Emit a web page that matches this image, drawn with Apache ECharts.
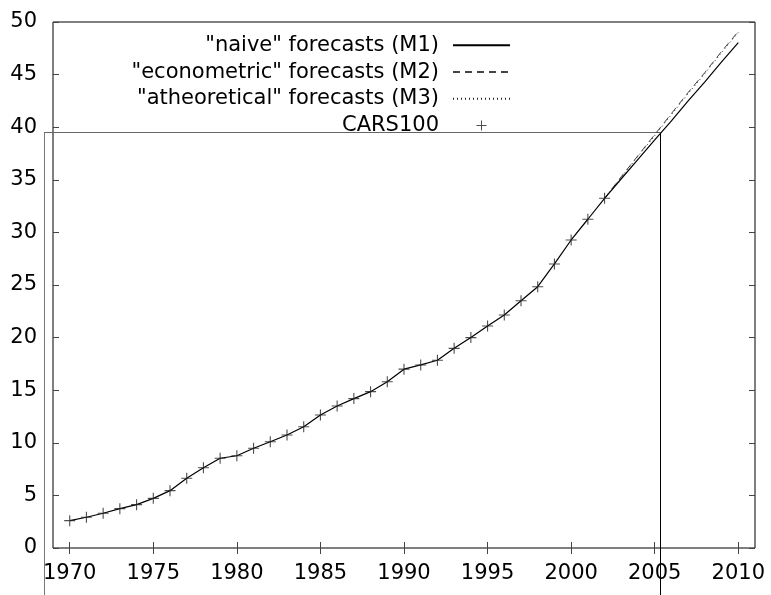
<!DOCTYPE html>
<html>
<head>
<meta charset="utf-8">
<script src="https://cdn.jsdelivr.net/npm/echarts@6/dist/echarts.min.js"></script>
<style>
html,body{margin:0;padding:0;background:#fff;}
#chart{width:771px;height:595px;}
</style>
</head>
<body>
<div id="chart"></div>
<script>
// Observed data (CARS100)
var years = [1970,1971,1972,1973,1974,1975,1976,1977,1978,1979,1980,1981,1982,1983,1984,1985,1986,1987,1988,1989,1990,1991,1992,1993,1994,1995,1996,1997,1998,1999,2000,2001,2002];
var cars100 = [2.6,2.92,3.3,3.74,4.12,4.72,5.45,6.63,7.63,8.53,8.77,9.48,10.1,10.74,11.53,12.64,13.5,14.2,14.86,15.8,17.0,17.4,17.85,18.98,20.0,21.1,22.15,23.5,24.84,27.0,29.28,31.25,33.24];
// Forecasts (start at last observation 2002)
var forecastYears = [2002,2003,2004,2005,2006,2007,2008,2009,2010];
var naiveForecast = [33.24,35.1,36.95,38.8,40.6,42.5,44.3,46.2,48.03];
var econForecast = [33.24,35.3,37.3,39.3,41.3,43.3,45.2,47.2,49.1];
var atheorForecast = [33.24,35.25,37.25,39.2,41.2,43.2,45.1,47.1,49.0];
var xTicks = [1970,1975,1980,1985,1990,1995,2000,2005,2010];
var yTicks = [0,5,10,15,20,25,30,35,40,45,50];

function pairs(xs, ys){ return xs.map(function(x,i){ return [x, ys[i]]; }); }

var m1Years = years.concat(forecastYears.slice(1));
var m1Vals = cars100.concat(naiveForecast.slice(1));

var FONT = 'DejaVu Sans';
var crossPath = 'path://M4.5,0h1v10h-1z M0,4.5h4.5v1h-4.5z M5.5,4.5h4.5v1h-4.5z';
var hiddenSym = {opacity: 0};

var chart = echarts.init(document.getElementById('chart'), null, {renderer:'canvas'});
var option = {
  animation: false,
  backgroundColor: '#fff',
  grid: {left: 53, right: 16, top: 22, bottom: 47, show: true, borderColor: '#000', borderWidth: 1, backgroundColor: 'transparent'},
  legend: {
    orient: 'vertical',
    align: 'right',
    right: 255,
    top: 27,
    itemWidth: 57,
    itemHeight: 10,
    itemGap: 0,
    selectedMode: false,
    textStyle: {fontFamily: FONT, fontSize: 21, color: '#000', lineHeight: 26.7, padding: [0, 9, 0, 0]},
    data: [
      {name: '"naive" forecasts (M1)', itemStyle: hiddenSym},
      {name: '"econometric" forecasts (M2)', itemStyle: hiddenSym},
      {name: '"atheoretical" forecasts (M3)', itemStyle: hiddenSym},
      {name: 'CARS100'}
    ]
  },
  xAxis: [{
    type: 'value', min: 1969, max: 2011, position: 'bottom',
    splitLine: {show: false},
    axisLine: {show: false},
    axisTick: {show: true, inside: true, length: 6, lineStyle: {color: '#444'}, customValues: xTicks},
    axisLabel: {show: true, margin: 15, fontFamily: FONT, fontSize: 21, color: '#000', customValues: xTicks, formatter: function(v){ return String(v); }}
  },{
    type: 'value', min: 1969, max: 2011, position: 'top',
    splitLine: {show: false},
    axisLine: {show: false},
    axisTick: {show: true, inside: true, length: 6, lineStyle: {color: '#444'}, customValues: xTicks},
    axisLabel: {show: false}
  }],
  yAxis: [{
    type: 'value', min: 0, max: 50, interval: 5, position: 'left',
    splitLine: {show: false},
    axisLine: {show: false},
    axisTick: {show: true, inside: true, length: 6, lineStyle: {color: '#444'}},
    axisLabel: {show: true, margin: 16, fontFamily: FONT, fontSize: 21, color: '#000', customValues: yTicks}
  },{
    type: 'value', min: 0, max: 50, interval: 5, position: 'right',
    splitLine: {show: false},
    axisLine: {show: false},
    axisTick: {show: true, inside: true, length: 6, lineStyle: {color: '#444'}},
    axisLabel: {show: false}
  }],
  series: [
    {
      name: '"naive" forecasts (M1)', type: 'line', symbol: 'none', z: 3,
      data: pairs(m1Years, m1Vals),
      itemStyle: {color: '#000'},
      lineStyle: {color: '#000', width: 1.2, type: 'solid'}
    },
    {
      name: '"econometric" forecasts (M2)', type: 'line', symbol: 'none', z: 2,
      data: pairs(forecastYears, econForecast),
      itemStyle: {color: '#444'},
      lineStyle: {color: '#444', width: 1, type: [7, 5]}
    },
    {
      name: '"atheoretical" forecasts (M3)', type: 'line', symbol: 'none', z: 2,
      data: pairs(forecastYears, atheorForecast),
      itemStyle: {color: '#222'},
      lineStyle: {color: '#222', width: 1, type: [1, 3]}
    },
    {
      name: 'CARS100', type: 'scatter', symbol: crossPath, symbolSize: 11, symbolKeepAspect: true, z: 4,
      data: pairs(years, cars100),
      itemStyle: {color: '#222'}
    }
  ],
  graphic: [
    {type: 'line', silent: true, shape: {x1: 44, y1: 132.5, x2: 660, y2: 132.5}, style: {stroke: '#666', lineWidth: 1}},
    {type: 'line', silent: true, shape: {x1: 44.5, y1: 132.5, x2: 44.5, y2: 595}, style: {stroke: '#777', lineWidth: 1}},
    {type: 'line', silent: true, shape: {x1: 660.5, y1: 132.5, x2: 660.5, y2: 595}, style: {stroke: '#000', lineWidth: 1}}
  ]
};
chart.setOption(option);
</script>
</body>
</html>
